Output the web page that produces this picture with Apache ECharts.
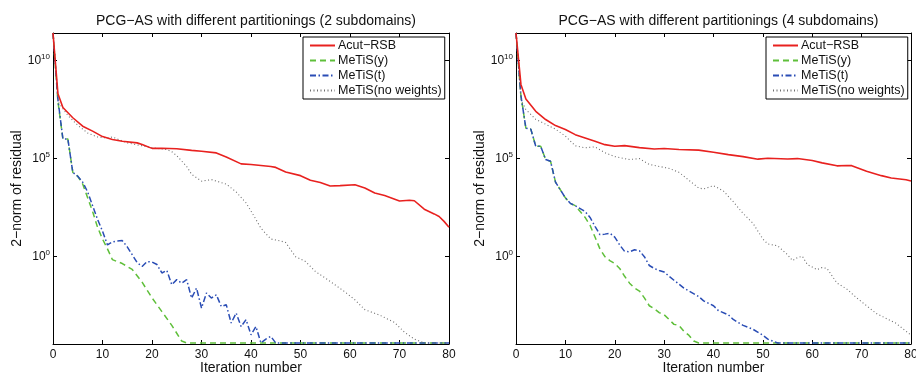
<!DOCTYPE html>
<html><head><meta charset="utf-8">
<script src="https://cdn.jsdelivr.net/npm/echarts@6/dist/echarts.min.js"></script>
<style>html,body{margin:0;padding:0;background:#fff}#c{width:916px;height:374px}</style>
</head><body><div id="c"></div>
<script>
// ---- data (values are log10 of the 2-norm of the residual) ----
const panelTitles = ['PCG\u2212AS with different partitionings (2 subdomains)', 'PCG\u2212AS with different partitionings (4 subdomains)'];
const seriesNames = ['Acut\u2212RSB', 'MeTiS(y)', 'MeTiS(t)', 'MeTiS(no weights)'];
const xTickStep = 10;
const yTickExponents = [0, 5, 10];

// 2 subdomains: [iteration, log10 residual]
const acut2 = [[0,11.4],[1,8.3],[2,7.6],[4,7.08],[6,6.65],[8,6.4],[10,6.12],[12,5.97],[14,5.88],[17,5.8],[18,5.72],[20,5.52],[22,5.53],[25,5.5],[28,5.42],[30,5.37],[33,5.29],[35,5.08],[38,4.73],[40,4.7],[44,4.6],[45,4.55],[47,4.32],[50,4.13],[52,3.9],[54,3.78],[56,3.6],[58,3.62],[61,3.67],[63,3.5],[65,3.25],[67,3.12],[70,2.84],[72,2.88],[73,2.85],[75,2.42],[77,2.18],[78,2.05],[79,1.8],[80,1.5]];
const metisY2 = [[0,11.4],[1,7.9],[2,6.0],[3,6.0],[4,4.3],[5,4.1],[6,3.7],[7,3.0],[8,2.3],[9,1.5],[10,0.9],[11,0.4],[12,-0.15],[14,-0.35],[16,-0.65],[18,-1.3],[20,-2.1],[22,-2.8],[24,-3.5],[26,-4.3],[27,-4.4],[80,-4.4]];
const metisT2 = [[0,11.4],[1,8.0],[2,6.0],[3,6.0],[4,4.3],[5,4.1],[6,3.8],[7,3.3],[8,2.6],[9,1.9],[10,1.3],[11,0.6],[12,0.75],[13,0.8],[14,0.82],[15,0.5],[16,0.1],[17,-0.3],[18,-0.5],[19,-0.25],[20,-0.27],[21,-0.4],[22,-0.83],[23,-0.7],[24,-1.43],[25,-1.17],[26,-1.35],[27,-1.17],[28,-2.11],[29,-1.6],[30,-2.62],[31,-1.85],[32,-2.11],[33,-1.94],[34,-2.54],[35,-2.45],[36,-3.38],[37,-2.87],[38,-3.56],[39,-3.21],[40,-3.98],[41,-3.56],[42,-4.4],[43,-4.2],[44,-4.06],[45,-4.4],[80,-4.4]];
const metisNW2 = [[0,11.4],[1,7.9],[3,7.2],[5,6.7],[7,6.3],[9,6.1],[11,6.05],[12,6.1],[13,6.0],[15,5.8],[18,5.65],[20,5.55],[23,5.46],[24,5.35],[25,5.15],[27,4.6],[28,4.2],[30,3.85],[32,3.93],[35,3.7],[37,3.3],[39,2.74],[41,1.9],[42,1.45],[44,0.9],[46,0.8],[47,0.72],[49,0.0],[51,-0.24],[53,-0.75],[56,-1.26],[59,-1.8],[61,-2.2],[63,-2.7],[66,-2.98],[69,-3.35],[71,-3.85],[73,-4.2],[75,-4.4],[80,-4.4]];

// 4 subdomains
const acut4 = [[0,11.4],[1,8.78],[2,8.04],[4,7.41],[6,6.99],[8,6.68],[10,6.48],[12,6.22],[14,6.05],[16,5.88],[18,5.71],[20,5.63],[22,5.66],[25,5.56],[28,5.49],[30,5.51],[33,5.46],[37,5.43],[40,5.32],[43,5.2],[46,5.1],[49,4.97],[51,5.02],[55,4.98],[57,5.0],[60,4.9],[62,4.78],[65,4.63],[67,4.65],[68,4.64],[71,4.35],[74,4.13],[76,4.01],[79,3.92],[80,3.86]];
const metisY4 = [[0,11.4],[1,8.2],[2,6.55],[3,6.5],[4,5.63],[5,5.63],[6,4.95],[7,4.86],[8,3.8],[9,3.4],[10,3.0],[11,2.72],[12,2.6],[13,2.3],[14,2.0],[15,1.6],[16,1.0],[17,0.4],[18,0.0],[19,-0.2],[20,-0.35],[21,-0.6],[22,-1.0],[23,-1.35],[24,-1.6],[25,-1.75],[26,-2.1],[27,-2.5],[28,-2.65],[29,-2.85],[30,-2.96],[31,-3.2],[32,-3.45],[33,-3.5],[34,-3.8],[35,-4.0],[36,-4.3],[37,-4.4],[80,-4.4]];
const metisT4 = [[0,11.4],[1,8.2],[2,6.55],[3,6.5],[4,5.63],[5,5.63],[6,4.95],[7,4.86],[8,3.8],[9,3.4],[10,3.0],[11,2.72],[12,2.6],[13,2.45],[14,2.3],[15,2.0],[16,1.55],[17,1.12],[18,1.15],[19,1.2],[20,1.0],[21,0.6],[22,0.27],[23,0.25],[24,0.35],[25,0.3],[26,0.0],[27,-0.45],[28,-0.6],[29,-0.7],[30,-0.78],[31,-1.0],[32,-1.2],[33,-1.4],[34,-1.6],[35,-1.75],[37,-2.03],[38,-2.25],[40,-2.5],[41,-2.75],[43,-2.96],[44,-3.2],[46,-3.5],[48,-3.7],[50,-4.0],[51,-4.2],[53,-4.4],[80,-4.4]];
const metisNW4 = [[0,11.4],[1,8.0],[2,7.5],[4,7.0],[6,6.75],[8,6.5],[10,6.15],[12,5.65],[14,5.55],[16,5.6],[18,5.3],[20,5.1],[23,4.95],[25,5.0],[27,4.7],[29,4.6],[31,4.5],[33,4.3],[35,3.9],[37,3.5],[38,3.45],[40,3.62],[42,3.35],[44,2.8],[46,2.2],[48,1.7],[50,0.9],[51,0.65],[53,0.55],[55,0.1],[56,-0.2],[57,-0.05],[58,0.02],[59,-0.4],[61,-0.66],[62,-0.55],[63,-0.6],[65,-1.34],[67,-1.65],[69,-2.1],[71,-2.5],[73,-2.9],[75,-3.15],[77,-3.4],[80,-4.0]];

const panelData = [[acut2, metisY2, metisT2, metisNW2], [acut4, metisY4, metisT4, metisNW4]];

// ---- styles / layout ----
const FONT = '"Liberation Sans", Arial, Helvetica, sans-serif';
const colors = ['#e8211f', '#5fbf3a', '#2a4db5', '#6e6e6e'];
const lineTypes = ['solid', [6, 4], [6, 2.5, 1.5, 2.5], [1, 2.5]];
const widths = [1.6, 1.5, 1.5, 1.1];
const grids = [
  { left: 53, top: 33, width: 396, height: 311, outerBoundsMode: 'none', containLabel: false },
  { left: 516, top: 33, width: 395, height: 311, outerBoundsMode: 'none', containLabel: false }
];
const legendPos = [{ left: 303, top: 37 }, { left: 766, top: 37 }];
const Y_MIN = -4.45, Y_MAX = 11.4;

const xAxes = [], yAxes = [], series = [], titles = [], legends = [];
grids.forEach((g, p) => {
  xAxes.push({
    gridIndex: p, type: 'value', min: 0, max: 80, interval: xTickStep, position: 'bottom',
    name: 'Iteration number', nameLocation: 'middle', nameGap: 17, nameMoveOverlap: false,
    nameTextStyle: { fontFamily: FONT, fontSize: 14, color: '#111' },
    axisLine: { onZero: false, lineStyle: { color: '#000', width: 1 } },
    axisTick: { inside: true, length: 4, lineStyle: { color: '#000' } },
    axisLabel: { fontFamily: FONT, fontSize: 12, color: '#111', margin: 5 },
    splitLine: { show: false }
  });
  xAxes.push({
    gridIndex: p, type: 'value', min: 0, max: 80, interval: xTickStep, position: 'top',
    axisLine: { onZero: false, lineStyle: { color: '#000', width: 1 } },
    axisTick: { inside: true, length: 4, lineStyle: { color: '#000' } },
    axisLabel: { show: false }, splitLine: { show: false }
  });
  yAxes.push({
    gridIndex: p, type: 'value', min: Y_MIN, max: Y_MAX, position: 'left',
    name: '2\u2212norm of residual', nameLocation: 'middle', nameGap: 29, nameMoveOverlap: false,
    nameTextStyle: { fontFamily: FONT, fontSize: 14, color: '#111' },
    axisLine: { onZero: false, lineStyle: { color: '#000', width: 1 } },
    axisTick: { inside: true, length: 4, customValues: yTickExponents, lineStyle: { color: '#000' } },
    axisLabel: {
      customValues: yTickExponents, margin: 3,
      formatter: v => '{b|10}{s|' + v + '}',
      rich: {
        b: { fontFamily: FONT, fontSize: 12, color: '#111' },
        s: { fontFamily: FONT, fontSize: 8, color: '#111', padding: [0, 0, 8, 0] }
      }
    },
    splitLine: { show: false }
  });
  yAxes.push({
    gridIndex: p, type: 'value', min: Y_MIN, max: Y_MAX, position: 'right',
    axisLine: { onZero: false, lineStyle: { color: '#000', width: 1 } },
    axisTick: { inside: true, length: 4, customValues: yTickExponents, lineStyle: { color: '#000' } },
    axisLabel: { show: false }, splitLine: { show: false }
  });
  titles.push({
    text: panelTitles[p], left: g.left + g.width / 2, top: 9, textAlign: 'center',
    textStyle: { fontFamily: FONT, fontSize: 14, fontWeight: 'normal', color: '#111' }
  });
  legends.push({
    orient: 'vertical', left: legendPos[p].left, top: legendPos[p].top,
    data: seriesNames, selectedMode: false,
    backgroundColor: '#fff', borderColor: '#000', borderWidth: 1,
    padding: [2, 3, 2, 6], itemWidth: 25, itemHeight: 12, itemGap: 2,
    itemStyle: { opacity: 0 },
    textStyle: { fontFamily: FONT, fontSize: 12.5, lineHeight: 12, color: '#111', padding: [0, 0, 0, -2] },
    z: 10
  });
  panelData[p].forEach((d, i) => {
    series.push({
      name: seriesNames[i], type: 'line', data: d,
      xAxisIndex: 2 * p, yAxisIndex: 2 * p,
      symbol: 'none', smooth: false, clip: true,
      lineStyle: { color: colors[i], width: widths[i], type: lineTypes[i] },
      itemStyle: { color: colors[i] },
      z: 3 + (i === 0 ? 1 : 0)
    });
  });
});

const chart = echarts.init(document.getElementById('c'), null, { renderer: 'canvas' });
chart.setOption({
  animation: false,
  backgroundColor: '#fff',
  title: titles,
  legend: legends,
  grid: grids,
  xAxis: xAxes,
  yAxis: yAxes,
  series: series
});
</script>
</body></html>
